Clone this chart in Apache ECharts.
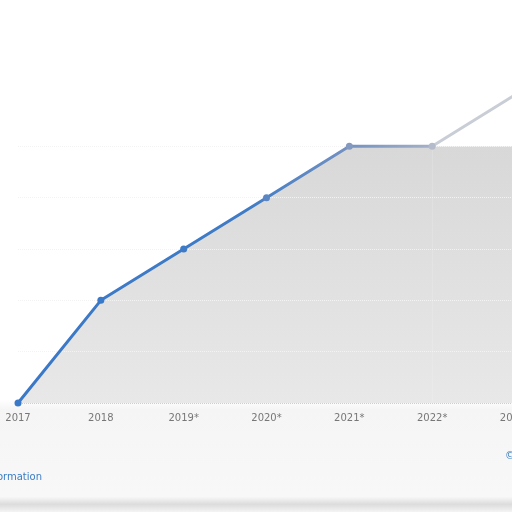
<!DOCTYPE html>
<html lang="en">
<head>
  <meta charset="UTF-8" />
  <title>Line chart</title>
  <script src="https://cdn.jsdelivr.net/npm/echarts@6/dist/echarts.min.js"></script>
  <style>
    html, body {
      margin: 0;
      padding: 0;
      background: #ffffff;
    }
    #chart {
      width: 512px;
      height: 512px;
    }
  </style>
</head>
<body>
  <div id="chart"></div>
  <script>
    // years along the bottom (* = forecast)
    var years = ["2017", "2018", "2019*", "2020*", "2021*", "2022*", "2023*"];
    // values (axis labels are cropped away)
    var actual = [10, 12, 13, 14, 15, 15, null];
    var forecast = [null, null, null, null, null, 15, 16];
    var shelf = [null, null, null, null, null, 15, 15];

    var chart = echarts.init(document.getElementById("chart"));

    var areaFill = new echarts.graphic.LinearGradient(0, 0, 0, 1, [
      { offset: 0, color: "#d8d8d8" },
      { offset: 1, color: "#e8e8e8" }
    ]);

    // the line fades out toward the right in the original
    var lineFade = new echarts.graphic.LinearGradient(0, 0, 1, 0, [
      { offset: 0, color: "#3a78c8" },
      { offset: 0.55, color: "#3f7bc6" },
      { offset: 0.8, color: "#7592c2" },
      { offset: 1, color: "#a6b2c8" }
    ]);
    var dotColors = ["#3a78c8", "#3a78c8", "#3d7ac7", "#5a86c4", "#8499c0", "#b4bccb"];

    // gridlines sit between the grey fill and the line; top one is not drawn
    var g = "#f3f3f3";
    var gridColors = ["#cfcfcf", g, g, g, g, g, "rgba(0,0,0,0)"];

    chart.setOption({
      backgroundColor: new echarts.graphic.LinearGradient(0, 0, 0, 1, [
        { offset: 0, color: "#ffffff" },
        { offset: 0.78, color: "#ffffff" },
        { offset: 0.8, color: "#f5f5f5" },
        { offset: 0.97, color: "#f8f8f8" },
        { offset: 0.985, color: "#dcdcdc" },
        { offset: 1, color: "#f4f4f4" }
      ]),
      animation: false,
      grid: { left: 18, right: -3, top: 95, bottom: 109, outerBoundsMode: "none", containLabel: false },
      xAxis: {
        type: "category",
        data: years,
        boundaryGap: false,
        axisLine: { show: false },
        axisTick: { show: false },
        axisLabel: {
          color: "#777777",
          fontFamily: "DejaVu Sans",
          fontSize: 10,
          margin: 10,
          showMaxLabel: true
        }
      },
      yAxis: {
        type: "value",
        z: 2,
        min: 10,
        max: 16,
        interval: 1,
        axisLabel: { show: false },
        axisLine: { show: false },
        axisTick: { show: false },
        splitLine: {
          lineStyle: { color: gridColors, type: [1, 1], width: 1 }
        }
      },
      graphic: [
        {
          type: "text",
          right: 470,
          top: 472,
          style: {
            text: "Additional Information",
            fill: "#3a7dc4",
            font: "10px 'DejaVu Sans'"
          }
        },
        {
          type: "text",
          left: 505,
          top: 451,
          style: {
            text: "© Statista 2023",
            fill: "#3a7dc4",
            font: "10px 'DejaVu Sans'"
          }
        }
      ],
      series: [
        {
          // grey fill beyond 2022
          type: "line",
          data: shelf,
          symbol: "none",
          lineStyle: { width: 0, opacity: 0 },
          areaStyle: { color: areaFill, opacity: 1 },
          z: 1
        },
        {
          // grey fill under the line
          type: "line",
          data: actual,
          symbol: "none",
          lineStyle: { width: 0, opacity: 0 },
          areaStyle: { color: areaFill, opacity: 1 },
          z: 1
        },
        {
          type: "line",
          data: forecast,
          symbol: "none",
          lineStyle: { color: "#c9ced6", width: 3 },
          z: 3
        },
        {
          type: "line",
          data: actual,
          symbol: "circle",
          symbolSize: 7,
          itemStyle: {
            color: function (p) { return dotColors[p.dataIndex]; }
          },
          lineStyle: { color: lineFade, width: 3 },
          z: 4
        }
      ]
    });
  </script>
</body>
</html>
